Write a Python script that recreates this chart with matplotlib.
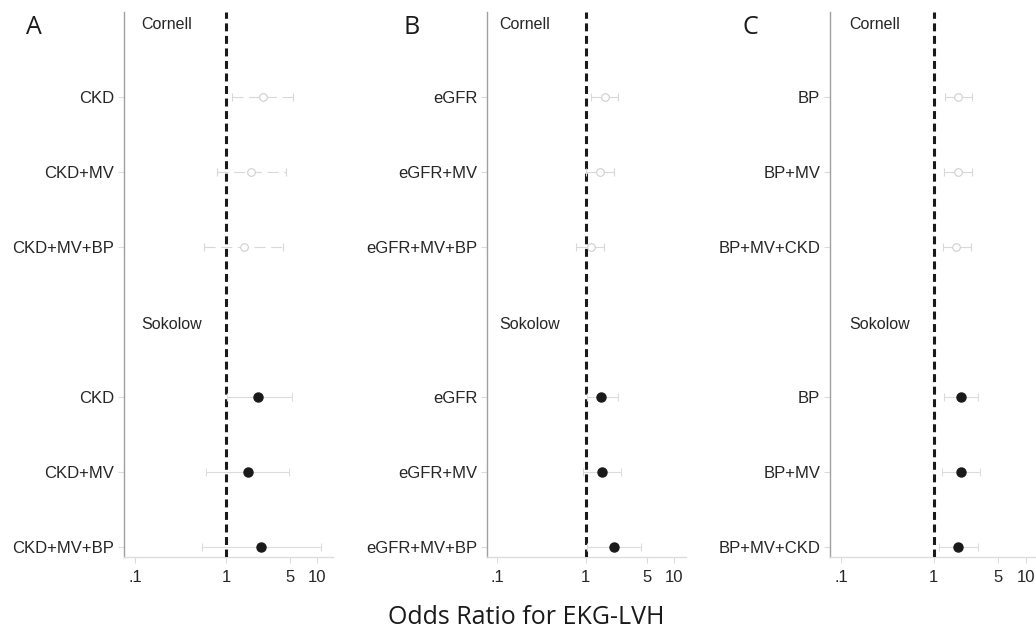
import matplotlib
matplotlib.use("Agg")
import matplotlib.pyplot as plt
import numpy as np

# ---------------- data ----------------
panel_letters = ["A", "B", "C"]
labels_A = ["CKD", "CKD+MV", "CKD+MV+BP"]
labels_B = ["eGFR", "eGFR+MV", "eGFR+MV+BP"]
labels_C = ["BP", "BP+MV", "BP+MV+CKD"]

cornell_A_or = [2.55, 1.88, 1.56]
cornell_A_lo = [1.16, 0.80, 0.58]
cornell_A_hi = [5.45, 4.53, 4.20]
sokolow_A_or = [2.23, 1.73, 2.42]
sokolow_A_lo = [1.03, 0.61, 0.54]
sokolow_A_hi = [5.35, 4.97, 11.1]

cornell_B_or = [1.64, 1.45, 1.14]
cornell_B_lo = [1.16, 1.02, 0.78]
cornell_B_hi = [2.34, 2.07, 1.63]
sokolow_B_or = [1.50, 1.51, 2.07]
sokolow_B_lo = [1.04, 0.92, 1.04]
sokolow_B_hi = [2.30, 2.53, 4.26]

cornell_C_or = [1.85, 1.85, 1.76]
cornell_C_lo = [1.33, 1.29, 1.26]
cornell_C_hi = [2.61, 2.59, 2.54]
sokolow_C_or = [1.98, 1.98, 1.84]
sokolow_C_lo = [1.31, 1.23, 1.14]
sokolow_C_hi = [3.03, 3.21, 3.00]

group_names = ["Cornell", "Sokolow"]
xtick_vals = [0.1, 1, 5, 10]
xtick_labels = [".1", "1", "5", "10"]
xlabel = "Odds Ratio for EKG-LVH"

panels = [
    (labels_A, (cornell_A_or, cornell_A_lo, cornell_A_hi), (sokolow_A_or, sokolow_A_lo, sokolow_A_hi)),
    (labels_B, (cornell_B_or, cornell_B_lo, cornell_B_hi), (sokolow_B_or, sokolow_B_lo, sokolow_B_hi)),
    (labels_C, (cornell_C_or, cornell_C_lo, cornell_C_hi), (sokolow_C_or, sokolow_C_lo, sokolow_C_hi)),
]

# ---------------- layout ----------------
W, H = 1036, 628
fig = plt.figure(figsize=(W / 100, H / 100), dpi=100)
plt.rcParams['font.family'] = ['Liberation Sans', 'DejaVu Sans']

# axes boxes in pixels: (left, right, top, bottom)
boxes = [(124, 333, 12, 557), (487, 686, 12, 557), (830, 1036, 12, 557)]
xlims = [(10 ** -1.12, 10 ** 1.176), (10 ** -1.118, 10 ** 1.136), (10 ** -1.124, 10 ** 1.11)]
header_dx = [17, 12, 19]
letter_x = [34, 412, 750]

cornell_rows = np.array([1, 2, 3])
sokolow_rows = np.array([5, 6, 7])
light = "#dcdcdc"
for i, (labels, corn, soko) in enumerate(panels):
    l, r, t, b = boxes[i]
    ax = fig.add_axes([l / W, 1 - b / H, (r - l) / W, (b - t) / H])
    ax.set_xscale("log")
    ax.set_xlim(*xlims[i])
    ax.set_ylim(7.133, -0.133)

    # reference line
    ax.axvline(1, color="#1a1a1a", lw=2.2, ls=(0, (2.6, 1.5)), zorder=3)

    # Cornell: hollow, dashed CI
    c_or, c_lo, c_hi = map(np.array, corn)
    eb = ax.errorbar(c_or, cornell_rows, xerr=[c_or - c_lo, c_hi - c_or], fmt="o",
                     mfc="white", mec="#cfcfcf", ms=5.5, mew=0.8,
                     ecolor="#d8d8d8", elinewidth=0.8, capsize=3, capthick=0.8, zorder=4)
    for lc in eb[2]:
        lc.set_linestyle((0, (10, 5)))

    # Sokolow: filled, solid CI
    s_or, s_lo, s_hi = map(np.array, soko)
    ax.errorbar(s_or, sokolow_rows, xerr=[s_or - s_lo, s_hi - s_or], fmt="o",
                mfc="#1a1a1a", mec="#1a1a1a", ms=6.5,
                ecolor=light, elinewidth=0.8, capsize=3, capthick=0.8, zorder=4)

    # headers
    for row, name in zip([0, 4], group_names):
        ax.annotate(name, xy=(0, row), xycoords=("axes fraction", "data"),
                    xytext=(header_dx[i] * 0.72, -1.5), textcoords="offset points",
                    ha="left", va="center", fontsize=11.5, color="#262626")

    ax.set_yticks(list(cornell_rows) + list(sokolow_rows))
    ax.set_yticklabels(labels + labels, fontsize=12, color="#262626")
    ax.set_xticks(xtick_vals)
    ax.set_xticklabels(xtick_labels, fontsize=12, color="#262626")
    ax.xaxis.set_minor_locator(matplotlib.ticker.NullLocator())
    ax.tick_params(axis="y", length=4, color=light, pad=3, width=0.8)
    ax.tick_params(axis="x", length=4.5, color=light, pad=5, width=0.8)

    for s in ("top", "right"):
        ax.spines[s].set_visible(False)
    ax.spines["left"].set_color("#a0a0a0")
    ax.spines["left"].set_linewidth(1.0)
    ax.spines["bottom"].set_color(light)
    ax.spines["bottom"].set_linewidth(1.0)

    fig.text(letter_x[i] / W, 1 - 27 / H, panel_letters[i], ha="center", va="center",
             fontsize=18, family=["Open Sans", "DejaVu Sans"], color="#1a1a1a")

fig.text(526 / W, 1 - 617 / H, xlabel, ha="center", va="center", fontsize=18,
         family=["Open Sans", "DejaVu Sans"], color="#1a1a1a")

fig.savefig("out.png", dpi=100)
